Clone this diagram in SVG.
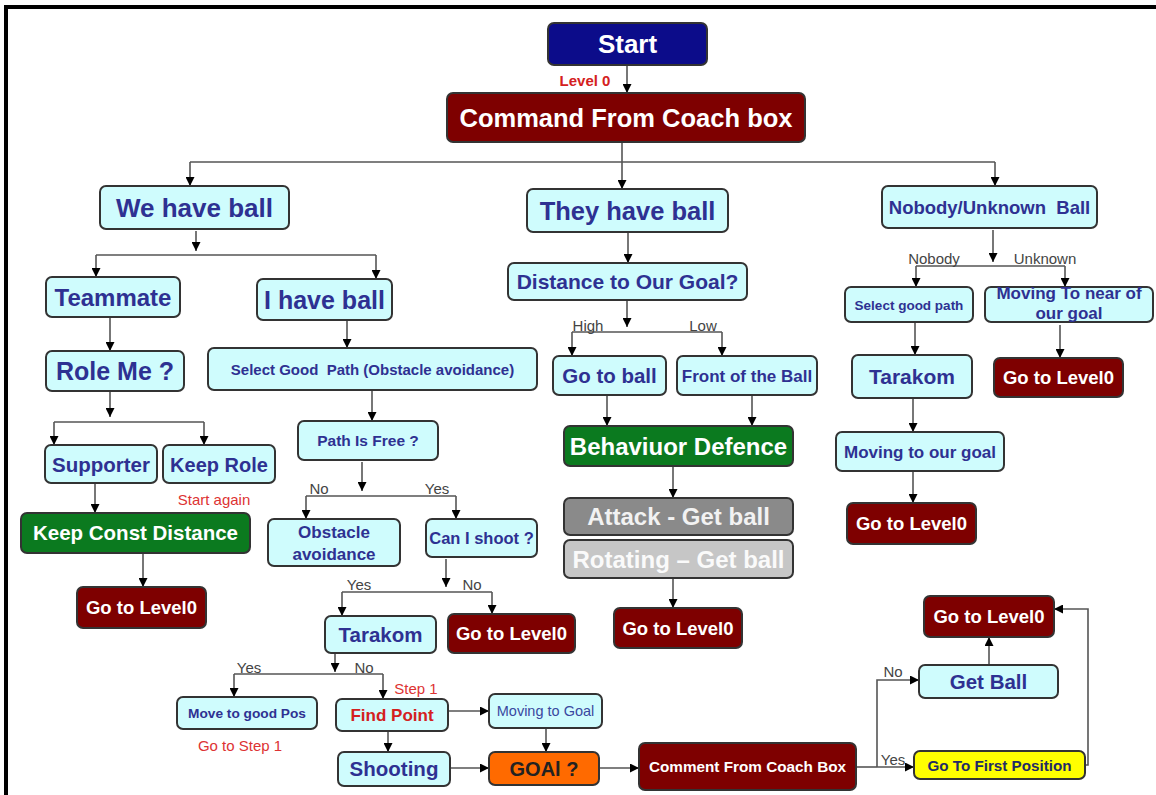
<svg xmlns="http://www.w3.org/2000/svg" width="1156" height="795" viewBox="0 0 1156 795">
<defs>
<marker id="ah" viewBox="0 0 10 10" markerUnits="userSpaceOnUse" markerWidth="9" markerHeight="9" refX="10" refY="5" orient="auto">
<path d="M0,0 L10,5 L0,10 z" fill="#000"/>
</marker>
<style>
text{font-family:"Liberation Sans",Arial,sans-serif;text-anchor:middle}
.b{stroke:#333;stroke-width:2}
.c{fill:#cffcfd}
.r{fill:#7e0000}
.g{fill:#0b7a1f}
.t{fill:#2e3192;font-weight:bold}
.w{fill:#fff;font-weight:bold}
.l{fill:#444;font-size:15px}
.red{fill:#dd3333;font-size:15px}
#conn line,#conn polyline{stroke:#555;stroke-width:1.6;fill:none}
.a{marker-end:url(#ah)}
</style>
</defs>
<rect x="0" y="0" width="1156" height="795" fill="#fff"/>
<rect x="4" y="5" width="1152" height="4" fill="#000"/>
<rect x="4" y="5" width="4" height="790" fill="#000"/>

<g id="conn">
<line class="a" x1="627" y1="65" x2="627" y2="93"/>
<line x1="622" y1="142" x2="622" y2="162"/>
<line x1="190" y1="162" x2="995" y2="162"/>
<line class="a" x1="190" y1="162" x2="190" y2="186"/>
<line class="a" x1="622" y1="162" x2="622" y2="189"/>
<line class="a" x1="995" y1="162" x2="995" y2="186"/>
<line class="a" x1="196" y1="231" x2="196" y2="251"/>
<line x1="96" y1="255" x2="376" y2="255"/>
<line class="a" x1="96" y1="255" x2="96" y2="277"/>
<line class="a" x1="376" y1="255" x2="376" y2="279"/>
<line class="a" x1="110" y1="317" x2="110" y2="351"/>
<line class="a" x1="110" y1="392" x2="110" y2="417"/>
<line x1="54" y1="422" x2="204" y2="422"/>
<line class="a" x1="54" y1="422" x2="54" y2="445"/>
<line class="a" x1="204" y1="422" x2="204" y2="445"/>
<line class="a" x1="95" y1="483" x2="95" y2="513"/>
<line class="a" x1="143" y1="553" x2="143" y2="587"/>
<line class="a" x1="347" y1="321" x2="347" y2="348"/>
<line class="a" x1="372" y1="390" x2="372" y2="421"/>
<line class="a" x1="362" y1="462" x2="362" y2="491"/>
<line x1="306" y1="496" x2="456" y2="496"/>
<line class="a" x1="306" y1="496" x2="306" y2="519"/>
<line class="a" x1="456" y1="496" x2="456" y2="519"/>
<line class="a" x1="446" y1="559" x2="446" y2="587"/>
<line x1="342" y1="592" x2="492" y2="592"/>
<line class="a" x1="342" y1="592" x2="342" y2="616"/>
<line class="a" x1="492" y1="592" x2="492" y2="614"/>
<line class="a" x1="335" y1="652" x2="335" y2="672"/>
<line x1="234" y1="674" x2="383" y2="674"/>
<line class="a" x1="234" y1="674" x2="234" y2="697"/>
<line class="a" x1="383" y1="674" x2="383" y2="699"/>
<line class="a" x1="448" y1="711" x2="489" y2="711"/>
<line class="a" x1="388" y1="731" x2="388" y2="752"/>
<line class="a" x1="546" y1="728" x2="546" y2="752"/>
<line class="a" x1="450" y1="768" x2="489" y2="768"/>
<line class="a" x1="599" y1="768" x2="639" y2="768"/>
<line x1="856" y1="767" x2="877" y2="767"/>
<line class="a" x1="877" y1="767" x2="914" y2="767"/>
<polyline class="a" points="877,767 877,680 919,680"/>
<line class="a" x1="989" y1="665" x2="989" y2="637"/>
<polyline class="a" points="1085,765 1088,765 1088,609 1054,609"/>
<line class="a" x1="628" y1="232" x2="628" y2="263"/>
<line class="a" x1="627" y1="300" x2="627" y2="327"/>
<line x1="572" y1="332" x2="722" y2="332"/>
<line class="a" x1="572" y1="332" x2="572" y2="356"/>
<line class="a" x1="722" y1="332" x2="722" y2="356"/>
<line class="a" x1="607" y1="395" x2="607" y2="426"/>
<line class="a" x1="752" y1="395" x2="752" y2="426"/>
<line class="a" x1="673" y1="466" x2="673" y2="498"/>
<line class="a" x1="673" y1="578" x2="673" y2="608"/>
<line class="a" x1="993" y1="230" x2="993" y2="262"/>
<line x1="916" y1="266" x2="1065" y2="266"/>
<line class="a" x1="916" y1="266" x2="916" y2="287"/>
<line class="a" x1="1065" y1="266" x2="1065" y2="287"/>
<line class="a" x1="915" y1="322" x2="915" y2="355"/>
<line class="a" x1="1060" y1="325" x2="1060" y2="358"/>
<line class="a" x1="913" y1="398" x2="913" y2="432"/>
<line class="a" x1="913" y1="471" x2="913" y2="503"/>
</g>

<g id="labels">
<text x="585" y="86" style="font-size:15px;font-weight:bold;fill:#d42020">Level 0</text>
<text class="l" x="588" y="331">High</text>
<text class="l" x="703" y="331">Low</text>
<text class="l" x="934" y="264">Nobody</text>
<text class="l" x="1045" y="264">Unknown</text>
<text class="l" x="319" y="494">No</text>
<text class="l" x="437" y="494">Yes</text>
<text class="l" x="359" y="590">Yes</text>
<text class="l" x="472" y="590">No</text>
<text class="l" x="249" y="673">Yes</text>
<text class="l" x="364" y="673">No</text>
<text class="l" x="893" y="677">No</text>
<text class="l" x="893" y="765">Yes</text>
<text class="red" x="214" y="505">Start again</text>
<text class="red" x="416" y="694">Step 1</text>
<text class="red" x="240" y="751">Go to Step 1</text>
</g>

<g id="start"><rect class="b" x="548" y="23" width="159" height="42" rx="6" fill="#0c0c8a"/><text class="w" x="627.5" y="53" font-size="26">Start</text></g>
<g id="cmd"><rect class="b r" x="447" y="93" width="358" height="49" rx="6"/><text class="w" x="626" y="127" font-size="25.5">Command From Coach box</text></g>
<g id="we"><rect class="b c" x="100" y="186" width="189" height="43" rx="6"/><text class="t" x="194.5" y="217" font-size="26">We have ball</text></g>
<g id="they"><rect class="b c" x="527" y="189" width="201" height="43" rx="6"/><text class="t" x="627.5" y="220" font-size="25.5">They have ball</text></g>
<g id="nobody"><rect class="b c" x="882" y="186" width="215" height="42" rx="6"/><text class="t" x="989.5" y="214" font-size="18.5">Nobody/Unknown&#160; Ball</text></g>
<g id="teammate"><rect class="b c" x="46" y="277" width="134" height="40" rx="6"/><text class="t" x="113" y="306" font-size="24">Teammate</text></g>
<g id="ihave"><rect class="b c" x="257" y="279" width="135" height="41" rx="6"/><text class="t" x="324.5" y="309" font-size="25">I have ball</text></g>
<g id="distance"><rect class="b c" x="508" y="263" width="239" height="37" rx="6"/><text class="t" x="627.5" y="289" font-size="21">Distance to Our Goal?</text></g>
<g id="roleme"><rect class="b c" x="46" y="351" width="138" height="40" rx="6"/><text class="t" x="115" y="380" font-size="25">Role Me ?</text></g>
<g id="selectpath"><rect class="b c" x="208" y="348" width="329" height="42" rx="6"/><text class="t" x="372.5" y="374.5" font-size="15">Select Good&#160; Path (Obstacle avoidance)</text></g>
<g id="gotoball"><rect class="b c" x="553" y="356" width="113" height="39" rx="6"/><text class="t" x="609.5" y="383" font-size="20.5">Go to ball</text></g>
<g id="front"><rect class="b c" x="677" y="356" width="140" height="39" rx="6"/><text class="t" x="747" y="381.5" font-size="17">Front of the Ball</text></g>
<g id="selgood"><rect class="b c" x="845" y="287" width="128" height="35" rx="6"/><text class="t" x="909" y="309.5" font-size="13.5">Select good path</text></g>
<g id="movnear"><rect class="b c" x="985" y="287" width="168" height="35" rx="6"/><text class="t" x="1069" y="299" font-size="17">Moving To near of</text><text class="t" x="1069" y="319" font-size="17">our goal</text></g>
<g id="pathfree"><rect class="b c" x="298" y="421" width="140" height="39" rx="6"/><text class="t" x="368" y="446" font-size="15.5">Path Is Free ?</text></g>
<g id="behav"><rect class="b g" x="564" y="426" width="229" height="40" rx="6"/><text class="w" x="678.5" y="454.5" font-size="24">Behaviuor Defence</text></g>
<g id="tarakomR"><rect class="b c" x="852" y="355" width="120" height="43" rx="6"/><text class="t" x="912" y="384" font-size="21">Tarakom</text></g>
<g id="gotoR1"><rect class="b r" x="994" y="358" width="129" height="39" rx="6"/><text class="w" x="1058.5" y="384" font-size="18.5">Go to Level0</text></g>
<g id="supporter"><rect class="b c" x="45" y="445" width="112" height="38" rx="6"/><text class="t" x="101" y="471.5" font-size="20.5">Supporter</text></g>
<g id="keeprole"><rect class="b c" x="163" y="445" width="112" height="38" rx="6"/><text class="t" x="219" y="471.5" font-size="20">Keep Role</text></g>
<g id="obst"><rect class="b c" x="268" y="519" width="132" height="47" rx="6"/><text class="t" x="334" y="538" font-size="17">Obstacle</text><text class="t" x="334" y="560" font-size="17">avoidance</text></g>
<g id="canshoot"><rect class="b c" x="426" y="519" width="111" height="38" rx="6"/><text class="t" x="481.5" y="544" font-size="16.5">Can I shoot ?</text></g>
<g id="keepconst"><rect class="b g" x="21" y="513" width="229" height="40" rx="6"/><text class="w" x="135.5" y="540" font-size="20.5">Keep Const Distance</text></g>
<g id="attack"><rect class="b" x="564" y="498" width="229" height="37" rx="6" fill="#8a8a8a"/><text x="678.5" y="525" font-size="24" style="fill:#f2f2f2;font-weight:bold">Attack - Get ball</text></g>
<g id="rotating"><rect class="b" x="564" y="540" width="229" height="38" rx="6" fill="#c6c6c6"/><text x="678.5" y="567.5" font-size="24" style="fill:#fafafa;font-weight:bold">Rotating – Get ball</text></g>
<g id="movgoal"><rect class="b c" x="836" y="432" width="168" height="39" rx="6"/><text class="t" x="920" y="457.5" font-size="17">Moving to our goal</text></g>
<g id="gotoR2"><rect class="b r" x="847" y="503" width="129" height="41" rx="6"/><text class="w" x="911.5" y="530" font-size="18.5">Go to Level0</text></g>
<g id="gotoL"><rect class="b r" x="77" y="587" width="129" height="41" rx="6"/><text class="w" x="141.5" y="614" font-size="18.5">Go to Level0</text></g>
<g id="tarakomM"><rect class="b c" x="325" y="616" width="111" height="37" rx="6"/><text class="t" x="380.5" y="642" font-size="20.5">Tarakom</text></g>
<g id="gotoM"><rect class="b r" x="448" y="614" width="127" height="39" rx="6"/><text class="w" x="511.5" y="640" font-size="18.5">Go to Level0</text></g>
<g id="gotoC"><rect class="b r" x="614" y="608" width="128" height="40" rx="6"/><text class="w" x="678" y="634.5" font-size="18.5">Go to Level0</text></g>
<g id="gotoBR"><rect class="b r" x="924" y="596" width="130" height="41" rx="6"/><text class="w" x="989" y="623" font-size="18.5">Go to Level0</text></g>
<g id="getball"><rect class="b c" x="919" y="665" width="139" height="33" rx="6"/><text class="t" x="988.5" y="689" font-size="20.5">Get Ball</text></g>
<g id="movegood"><rect class="b c" x="177" y="697" width="140" height="32" rx="6"/><text class="t" x="247" y="718" font-size="13.7">Move to good Pos</text></g>
<g id="findpoint"><rect class="b c" x="336" y="699" width="112" height="32" rx="6"/><text x="392" y="721" font-size="17" style="fill:#d42020;font-weight:bold">Find Point</text></g>
<g id="movinggoal"><rect class="b c" x="489" y="694" width="113" height="34" rx="6"/><text x="545.5" y="716" font-size="14.5" style="fill:#3a48a0">Moving to Goal</text></g>
<g id="shooting"><rect class="b c" x="338" y="752" width="112" height="34" rx="6"/><text class="t" x="394" y="776" font-size="20.5">Shooting</text></g>
<g id="goal"><rect class="b" x="489" y="752" width="110" height="33" rx="6" fill="#ff6a00"/><text x="544" y="776" font-size="20" style="fill:#222;font-weight:bold">GOAl ?</text></g>
<g id="comment"><rect class="b r" x="639" y="743" width="217" height="47" rx="6"/><text class="w" x="747.5" y="772" font-size="15.3">Comment From Coach Box</text></g>
<g id="gofirst"><rect class="b" x="914" y="751" width="171" height="28" rx="6" fill="#ffff00"/><text x="999.5" y="770.5" font-size="15.2" style="fill:#222a66;font-weight:bold">Go To First Position</text></g>
</svg>
